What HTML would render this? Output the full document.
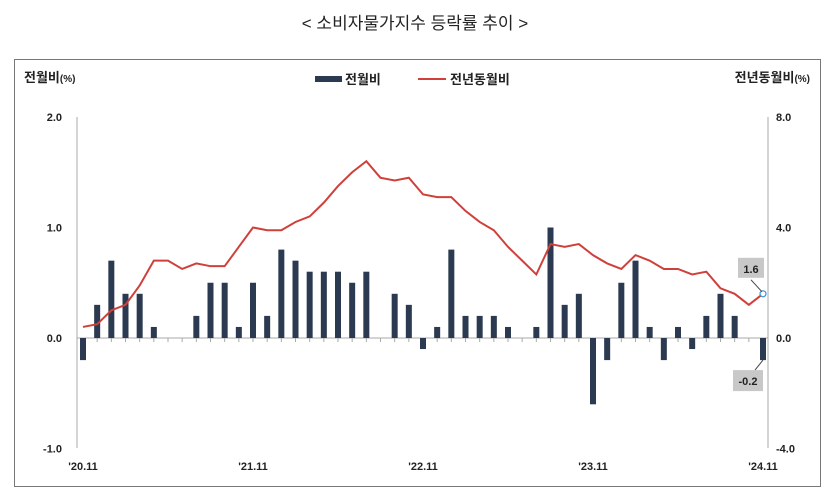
<!DOCTYPE html>
<html><head><meta charset="utf-8">
<style>
body{margin:0;width:830px;height:494px;background:#fff;overflow:hidden;font-family:"Liberation Sans","Noto Sans CJK KR",sans-serif;}
</style></head>
<body>
<svg id="chart" width="830" height="494" xmlns="http://www.w3.org/2000/svg" style="font-family:'Liberation Sans','Noto Sans CJK KR',sans-serif">
<text x="415" y="29" text-anchor="middle" font-size="17" fill="#222">&lt; 소비자물가지수 등락률 추이 &gt;</text>
<rect x="14.5" y="59.5" width="806" height="427" fill="none" stroke="#777" stroke-width="1"/>
<text x="24" y="82" font-size="13" font-weight="bold" fill="#222">전월비<tspan font-size="10">(%)</tspan></text>
<text x="810" y="82" text-anchor="end" font-size="13" font-weight="bold" fill="#222">전년동월비<tspan font-size="10">(%)</tspan></text>
<g>
<rect x="315" y="76" width="27" height="6" fill="#2b3a50"/>
<text x="345" y="84" font-size="13" font-weight="bold" fill="#222">전월비</text>
<line x1="418" y1="79" x2="446" y2="79" stroke="#d0403a" stroke-width="2"/>
<text x="450" y="84" font-size="13" font-weight="bold" fill="#222">전년동월비</text>
</g>
<g id="g"></g>
</svg>
<script>
const categories=["'20.11","'20.12","'21.01","'21.02","'21.03","'21.04","'21.05","'21.06","'21.07","'21.08","'21.09","'21.10","'21.11","'21.12","'22.01","'22.02","'22.03","'22.04","'22.05","'22.06","'22.07","'22.08","'22.09","'22.10","'22.11","'22.12","'23.01","'23.02","'23.03","'23.04","'23.05","'23.06","'23.07","'23.08","'23.09","'23.10","'23.11","'23.12","'24.01","'24.02","'24.03","'24.04","'24.05","'24.06","'24.07","'24.08","'24.09","'24.10","'24.11"];
const momValues=[-0.2,0.3,0.7,0.4,0.4,0.1,0,0,0.2,0.5,0.5,0.1,0.5,0.2,0.8,0.7,0.6,0.6,0.6,0.5,0.6,0,0.4,0.3,-0.1,0.1,0.8,0.2,0.2,0.2,0.1,0,0.1,1.0,0.3,0.4,-0.6,-0.2,0.5,0.7,0.1,-0.2,0.1,-0.1,0.2,0.4,0.2,0,-0.2];
const yoyValues=[0.4,0.5,1.0,1.2,1.9,2.8,2.8,2.5,2.7,2.6,2.6,3.3,4.0,3.9,3.9,4.2,4.4,4.9,5.5,6.0,6.4,5.8,5.7,5.8,5.2,5.1,5.1,4.6,4.2,3.9,3.3,2.8,2.3,3.4,3.3,3.4,3.0,2.7,2.5,3.0,2.8,2.5,2.5,2.3,2.4,1.8,1.6,1.2,1.6];
const leftTicks=[2.0,1.0,0.0,-1.0];
const rightTicks=[8.0,4.0,0.0,-4.0];
const xLabels=["'20.11","'21.11","'22.11","'23.11","'24.11"];
const NS="http://www.w3.org/2000/svg";
const g=document.getElementById('g');
const x0=83,x1=763;
const xs=i=>x0+(x1-x0)*i/(categories.length-1);
const yL=v=>338-v*110.5;
const yR=v=>338-v*27.625;
function mk(t,a){const e=document.createElementNS(NS,t);for(const k in a)e.setAttribute(k,a[k]);g.appendChild(e);return e;}
let e;
e=mk('line',{x1:77,y1:117,x2:77,y2:448,stroke:'#aaa'});


e=mk('line',{x1:768,y1:117,x2:768,y2:448,stroke:'#aaa'});


e=mk('line',{x1:77,y1:338,x2:768,y2:338,stroke:'#aaa'});


leftTicks.forEach(v=>{
 e=mk('text',{x:62,y:yL(v)+4,'text-anchor':'end','font-size':11,'font-weight':'bold',fill:'#222'});e.textContent=v.toFixed(1);
 
 
});
rightTicks.forEach(v=>{
 e=mk('text',{x:776,y:yR(v)+4,'font-size':11,'font-weight':'bold',fill:'#222'});e.textContent=v.toFixed(1);
 
 
});
categories.forEach((c,i)=>{
 e=mk('line',{x1:xs(i),y1:338,x2:xs(i),y2:342,stroke:'#aaa'});
 
 
 if(xLabels.includes(c)){
  e=mk('text',{x:xs(i),y:470,'text-anchor':'middle','font-size':11,'font-weight':'bold',fill:'#222'});e.textContent=c;
  
  
 }
});
momValues.forEach((v,i)=>{
 const y=Math.min(yL(v),yL(0)),h=Math.abs(yL(v)-yL(0));
 e=mk('rect',{x:xs(i)-3,y:y,width:6,height:h,fill:'#2b3a50'});
 
 
});
e=mk('polyline',{points:yoyValues.map((v,i)=>xs(i)+','+yR(v)).join(' '),fill:'none',stroke:'#d0403a','stroke-width':2});


const n=categories.length-1;
e=mk('circle',{cx:xs(n),cy:yR(yoyValues[n]),r:3,fill:'#fff',stroke:'#3a8fd8','stroke-width':1.2});


e=mk('line',{x1:xs(n)-1,y1:yR(yoyValues[n])-2,x2:xs(n)-12,y2:yR(yoyValues[n])-14,stroke:'#444'});


e=mk('rect',{x:xs(n)-25,y:yR(yoyValues[n])-36,width:26,height:20,fill:'#c8c8c8'});


e=mk('text',{x:xs(n)-12,y:yR(yoyValues[n])-21,'text-anchor':'middle','font-size':11,'font-weight':'bold',fill:'#222'});e.textContent=yoyValues[n].toFixed(1);


e=mk('line',{x1:xs(n),y1:yL(momValues[n]),x2:xs(n)-8,y2:yL(momValues[n])+10,stroke:'#444'});


e=mk('rect',{x:xs(n)-30,y:yL(momValues[n])+10,width:30,height:21,fill:'#c8c8c8'});


e=mk('text',{x:xs(n)-15,y:yL(momValues[n])+25,'text-anchor':'middle','font-size':11,'font-weight':'bold',fill:'#222'});e.textContent=momValues[n].toFixed(1);


</script>
</body></html>
